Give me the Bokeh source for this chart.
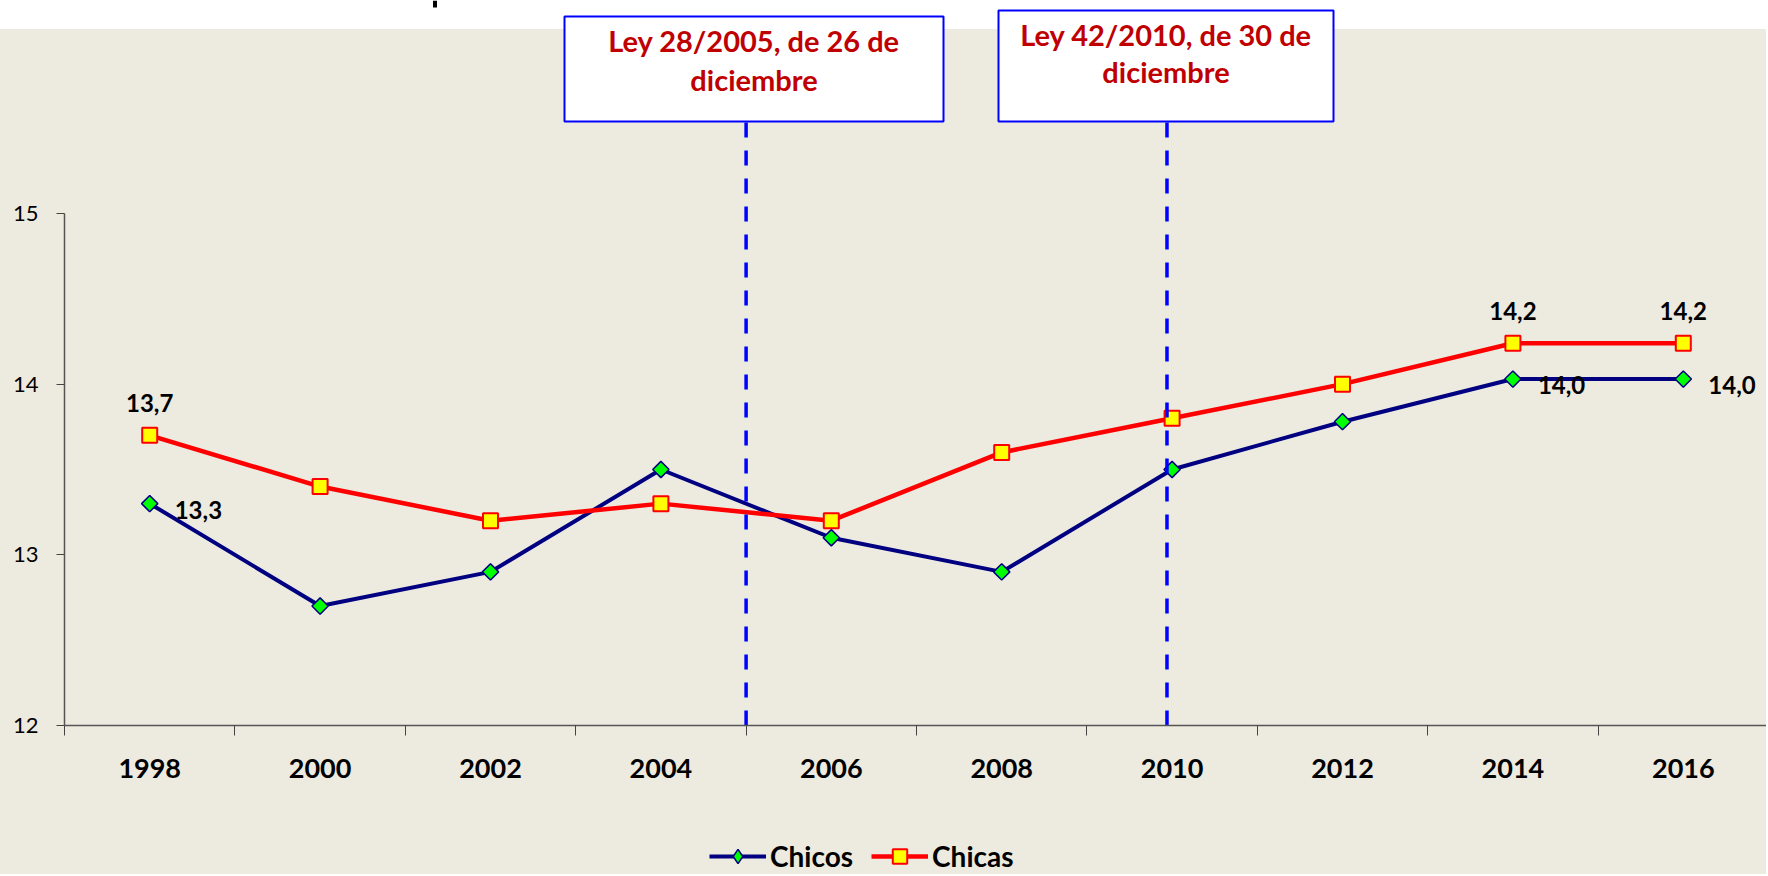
import numpy as np
from bokeh.plotting import figure
from bokeh.layouts import column
from bokeh.models import (Range1d, FixedTicker, CustomJSTickFormatter, Legend, LegendItem,
                          ColumnDataSource)
from bokeh.core.properties import value
from bokeh.embed import file_html
from bokeh.resources import INLINE

# ---------------- data ----------------
years = ["1998", "2000", "2002", "2004", "2006", "2008", "2010", "2012", "2014", "2016"]
chicos = [13.3, 12.7, 12.9, 13.5, 13.1, 12.9, 13.5, 13.78, 14.03, 14.03]
chicas = [13.7, 13.4, 13.2, 13.3, 13.2, 13.6, 13.8, 14.0, 14.24, 14.24]
series_names = ["Chicos", "Chicas"]
y_ticks = [12, 13, 14, 15]
labelled_idx = [0, 8, 9]
law_text = [["Ley 28/2005, de 26 de", "diciembre"], ["Ley 42/2010, de 30 de", "diciembre"]]
law_x = [4.0, 6.47]   # position of the law markers on the category axis

# ---------------- layout constants (pixels) ----------------
W = 1766
H_MAIN = 790
H_LEG = 84
LEFT = 64
AXIS_Y = 725
PX_X = 170.4
PX_Y = 170.67
Y0 = 12
LEG_LEFT = 709


def dx(fx):
    return (fx - LEFT) / PX_X


def dy(fy):
    return Y0 + (AXIS_Y - fy) / PX_Y


BEIGE = "#EDEAE0"
FONT = "Lato"
NAVY, GREEN, RED, YELLOW = "#000080", "#00FF00", "#FF0000", "#FFFF00"

p = figure(width=W, height=H_MAIN,
           x_range=Range1d(0, dx(W)), y_range=Range1d(Y0, dy(0)),
           output_backend="svg", toolbar_location=None,
           min_border_left=LEFT, min_border_right=0, min_border_top=0,
           min_border_bottom=H_MAIN - AXIS_Y,
           background_fill_color=None, border_fill_color=None,
           outline_line_color=None)
p.styles = {"background": "linear-gradient(to bottom, #FFFFFF 0px, #FFFFFF 29px, %s 29px, %s 100%%)" % (BEIGE, BEIGE)}
p.xgrid.visible = False
p.ygrid.visible = False

# ---------------- axes ----------------
xs = [i + 0.5 for i in range(len(years))]
xa = p.xaxis[0]
xa.ticker = FixedTicker(ticks=xs, minor_ticks=list(range(len(years) + 1)))
xa.formatter = CustomJSTickFormatter(args=dict(labels=years), code="""
const i = Math.round(tick - 0.5);
return (i >= 0 && i < labels.length) ? labels[i] : '';
""")
xa.major_tick_line_color = None
xa.major_tick_out = 0
xa.major_tick_in = 0
xa.minor_tick_line_color = "#444444"
xa.minor_tick_out = 10
xa.minor_tick_in = 0
xa.minor_tick_line_width = 1
xa.axis_line_color = "#555555"
xa.axis_line_width = 1.5
xa.major_label_standoff = 23
xa.major_label_text_font = FONT
xa.major_label_text_font_style = "bold"
xa.major_label_text_font_size = "27px"
xa.major_label_text_color = "#000000"

ya = p.yaxis[0]
ya.ticker = FixedTicker(ticks=y_ticks)
ya.bounds = (12, 15)
ya.major_tick_out = 8
ya.major_tick_in = 0
ya.major_tick_line_color = "#444444"
ya.minor_tick_line_color = None
ya.axis_line_color = "#555555"
ya.axis_line_width = 1.5
ya.major_label_standoff = 18
ya.major_label_text_font = FONT
ya.major_label_text_font_size = "22px"
ya.major_label_text_color = "#000000"

# ---------------- series ----------------
line_kw = [dict(line_color=NAVY, line_width=4), dict(line_color=RED, line_width=4.5)]
mark_kw = [dict(marker="square", angle=np.pi / 4, size=11.5, fill_color=GREEN,
                line_color=NAVY, line_width=1.5),
           dict(marker="square", size=15, fill_color=YELLOW, line_color=RED, line_width=2)]
legend_mark_kw = [dict(marker="diamond", fill_color=GREEN, line_color=NAVY, line_width=1.5),
                  dict(marker="square", fill_color=YELLOW, line_color=RED, line_width=2)]

src = ColumnDataSource(dict(x=xs, chicos=chicos, chicas=chicas))
for col, lk, mk in zip(["chicos", "chicas"], line_kw, mark_kw):
    p.line("x", col, source=src, **lk)
    p.scatter("x", col, source=src, **mk)


def fmt(v):
    return ("%.1f" % v).replace(".", ",")


lab_chicas = ColumnDataSource(dict(x=[xs[i] for i in labelled_idx],
                                   y=[chicas[i] for i in labelled_idx],
                                   t=[fmt(chicas[i]) for i in labelled_idx]))
lab_chicos = ColumnDataSource(dict(x=[xs[i] for i in labelled_idx],
                                   y=[chicos[i] for i in labelled_idx],
                                   t=[fmt(chicos[i]) for i in labelled_idx]))
p.text("x", "y", text="t", source=lab_chicas, text_align="center", text_baseline="middle",
       y_offset=-32, text_font=value(FONT), text_font_style="bold", text_font_size="24px",
       text_color="#000000")
p.text("x", "y", text="t", source=lab_chicos, text_align="left", text_baseline="middle",
       x_offset=25, y_offset=6, text_font=value(FONT), text_font_style="bold",
       text_font_size="24px", text_color="#000000")

# ---------------- law markers ----------------
box_px = [(564, 943, 16, 121), (998, 1333, 10, 121)]
baselines_px = [(40, 79), (34, 71)]
p.segment(x0=law_x, y0=[Y0] * 2, x1=law_x, y1=[dy(b[3]) for b in box_px],
          line_color="#0000FF", line_width=3.5, line_dash="15 13")
p.quad(left=[dx(b[0]) for b in box_px], right=[dx(b[1]) for b in box_px],
       top=[dy(b[2]) for b in box_px], bottom=[dy(b[3]) for b in box_px],
       fill_color="#FFFFFF", line_color="#0000FF", line_width=2)
tx, ty, tt = [], [], []
for b, bl, lines in zip(box_px, baselines_px, law_text):
    for yy, line in zip(bl, lines):
        tx.append(dx((b[0] + b[1]) / 2))
        ty.append(dy(yy))
        tt.append(line)
p.text(x=tx, y=ty, text=tt, text_align="center", text_baseline="alphabetic",
       text_color="#C00000", text_font=value(FONT), text_font_style="bold",
       text_font_size="29px")

# remnant of the cropped title at the top edge
p.segment(x0=[dx(434.5)], y0=[dy(0)], x1=[dx(434.5)], y1=[dy(7)],
          line_color="#000000", line_width=4)

# ---------------- legend strip ----------------
p2 = figure(width=W, height=H_LEG, x_range=Range1d(0, 1), y_range=Range1d(0, 1),
            output_backend="svg", toolbar_location=None,
            x_axis_location=None, y_axis_location=None,
            min_border_left=LEFT, min_border_right=0, min_border_top=0, min_border_bottom=0,
            background_fill_color=None, border_fill_color=None, outline_line_color=None)
p2.styles = {"background": BEIGE}
p2.grid.visible = False
items = []
for name, lk, mk in zip(series_names, line_kw, legend_mark_kw):
    r1 = p2.line([-10, -9], [-10, -10], **lk)
    r2 = p2.scatter([-10], [-10], **mk)
    items.append(LegendItem(label=name, renderers=[r1, r2]))
legend = Legend(items=items, orientation="horizontal", location=(LEG_LEFT - LEFT, 0),
                background_fill_alpha=0, border_line_color=None,
                padding=0, margin=0, spacing=18, glyph_width=57, glyph_height=36,
                label_standoff=4, label_text_font=FONT, label_text_font_style="bold",
                label_text_font_size="28px", label_text_color="#000000")
p2.add_layout(legend)

open("out.html", "w").write(file_html(column(p, p2, spacing=0), INLINE))
